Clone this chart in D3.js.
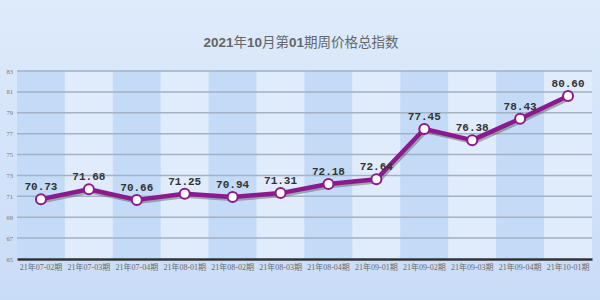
<!DOCTYPE html>
<html><head><meta charset="utf-8">
<script src="https://cdn.jsdelivr.net/npm/d3@7"></script>
<style>html,body{margin:0;padding:0;}svg{display:block;}</style>
</head><body>
<script>
const categories = ["21年07-02期","21年07-03期","21年07-04期","21年08-01期","21年08-02期","21年08-03期","21年08-04期","21年09-01期","21年09-02期","21年09-03期","21年09-04期","21年10-01期"];
const values = [70.73, 71.68, 70.66, 71.25, 70.94, 71.31, 72.18, 72.64, 77.45, 76.38, 78.43, 80.60];
const yTicks = [65, 67, 69, 71, 73, 75, 77, 79, 81, 83];
const title = "2021年10月第01期周价格总指数";

const W = 600, H = 300;
const m = {left: 17, right: 8, top: 71, bottom: 41};
const svg = d3.select("body").append("svg").attr("width", W).attr("height", H);
const defs = svg.append("defs");
const bg = defs.append("linearGradient").attr("id","bg").attr("x1",0).attr("y1",0).attr("x2",0).attr("y2",1);
bg.append("stop").attr("offset","0%").attr("stop-color","#deebfb");
bg.append("stop").attr("offset","100%").attr("stop-color","#c9dcf7");
svg.append("rect").attr("width",W).attr("height",H).attr("fill","url(#bg)");

const x = d3.scaleBand().domain(categories).range([m.left, W - m.right]).padding(0);
const y = d3.scaleLinear().domain([65, 83]).range([H - m.bottom, m.top]);

// bands
svg.append("g").selectAll("rect").data(categories).join("rect")
  .attr("x", d => x(d)).attr("y", y(83)).attr("width", x.bandwidth()).attr("height", y(65) - y(83))
  .attr("fill", (d,i) => i % 2 === 0 ? "#c4dbf8" : "#e0ecfb");

// grid
svg.append("g").selectAll("line").data(yTicks.filter(t => t !== 65)).join("line")
  .attr("x1", m.left).attr("x2", W - m.right).attr("y1", d => y(d)).attr("y2", d => y(d))
  .attr("stroke", "#a3b1c4").attr("stroke-width", 1.5);

// y axis labels
const yAxis = d3.axisLeft(y).tickValues(yTicks).tickSize(0).tickPadding(4);
const yg = svg.append("g").attr("transform", `translate(${m.left},0)`).call(yAxis);
yg.select(".domain").remove();
yg.selectAll("text").attr("fill", "#777").attr("font-size", 6.5).attr("font-family", "Liberation Serif");

// x axis
const xAxis = d3.axisBottom(x).tickSize(0).tickPadding(5);
const xg = svg.append("g").attr("transform", `translate(0,${y(65)})`).call(xAxis);
xg.select(".domain").attr("stroke", "#333").attr("stroke-width", 2.5);
xg.selectAll("text").attr("fill", "#6a6a6a").attr("font-size", 8).attr("font-family", "Liberation Serif, Noto Sans CJK SC");

// title: digits bold, CJK regular
const tt = svg.append("text").attr("x", 301).attr("y", 47).attr("text-anchor", "middle")
  .attr("font-family", "Liberation Sans, Noto Sans CJK SC").attr("font-size", 13.5).attr("fill", "#666");
title.match(/[0-9]+|[^0-9]+/g).forEach(part => {
  tt.append("tspan").attr("font-weight", /[0-9]/.test(part) ? "bold" : "normal").text(part);
});

const pts = categories.map((c, i) => [x(c) + x.bandwidth() / 2, y(values[i])]);
const line = d3.line();
// shadow
svg.append("path").attr("d", line(pts)).attr("transform", "translate(1.5,2)")
  .attr("fill", "none").attr("stroke", "#555").attr("stroke-opacity", 0.45).attr("stroke-width", 4.5).attr("stroke-linejoin","round");
svg.append("path").attr("d", line(pts)).attr("fill", "none").attr("stroke", "#8c1a8e").attr("stroke-width", 4.5).attr("stroke-linejoin","round");

svg.append("g").selectAll("circle").data(pts).join("circle")
  .attr("cx", d => d[0]).attr("cy", d => d[1]).attr("r", 5)
  .attr("fill", "#fff").attr("stroke", "#8c1a8e").attr("stroke-width", 2);

svg.append("g").selectAll("text").data(values).join("text")
  .attr("x", (d, i) => pts[i][0]).attr("y", (d, i) => pts[i][1] - 9)
  .attr("text-anchor", "middle").attr("font-family", "Liberation Mono").attr("font-weight", "bold")
  .attr("font-size", 11).attr("fill", "#333").text(d => d.toFixed(2));
</script>
</body></html>
